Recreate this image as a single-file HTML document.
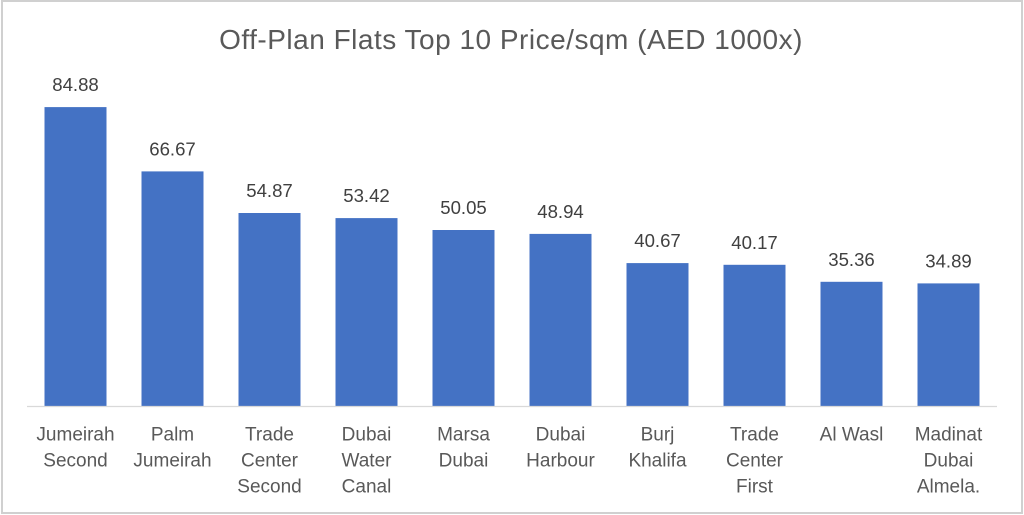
<!DOCTYPE html>
<html>
<head>
<meta charset="utf-8">
<style>
  html,body{margin:0;padding:0;background:#fff;}
  svg{display:block;}
  text{font-family:"Liberation Sans",Arial,sans-serif;}
</style>
</head>
<body>
<svg width="1024" height="515" viewBox="0 0 1024 515" xmlns="http://www.w3.org/2000/svg">
  <rect x="0" y="0" width="1024" height="515" fill="#fff"/>
  <rect x="2" y="1" width="1020" height="512" fill="#fff" stroke="#d0d0d0" stroke-width="2"/>

  <text x="511" y="49" text-anchor="middle" font-size="28" letter-spacing="0.5" fill="#595959">Off-Plan Flats Top 10 Price/sqm (AED 1000x)</text>

  <g fill="#4472C4">
    <rect x="44.5" y="107.1" width="62" height="299.4"/>
    <rect x="141.5" y="171.4" width="62" height="235.1"/>
    <rect x="238.5" y="213.0" width="62" height="193.5"/>
    <rect x="335.5" y="218.1" width="62" height="188.4"/>
    <rect x="432.5" y="230.0" width="62" height="176.5"/>
    <rect x="529.5" y="233.9" width="62" height="172.6"/>
    <rect x="626.5" y="263.1" width="62" height="143.4"/>
    <rect x="723.5" y="264.8" width="62" height="141.7"/>
    <rect x="820.5" y="281.8" width="62" height="124.7"/>
    <rect x="917.5" y="283.4" width="62" height="123.1"/>
  </g>

  <line x1="27" y1="406.5" x2="997" y2="406.5" stroke="#d9d9d9" stroke-width="1.2"/>

  <g font-size="18.6" fill="#404040" text-anchor="middle">
    <text x="75.5" y="91">84.88</text>
    <text x="172.5" y="155.4">66.67</text>
    <text x="269.5" y="197">54.87</text>
    <text x="366.5" y="202.1">53.42</text>
    <text x="463.5" y="214">50.05</text>
    <text x="560.5" y="217.9">48.94</text>
    <text x="657.5" y="247.1">40.67</text>
    <text x="754.5" y="248.8">40.17</text>
    <text x="851.5" y="265.8">35.36</text>
    <text x="948.5" y="267.4">34.89</text>
  </g>

  <g font-size="19" fill="#595959" text-anchor="middle">
    <text x="75.5" y="440.5">Jumeirah</text>
    <text x="75.5" y="466.5">Second</text>

    <text x="172.5" y="440.5">Palm</text>
    <text x="172.5" y="466.5">Jumeirah</text>

    <text x="269.5" y="440.5">Trade</text>
    <text x="269.5" y="466.5">Center</text>
    <text x="269.5" y="492.5">Second</text>

    <text x="366.5" y="440.5">Dubai</text>
    <text x="366.5" y="466.5">Water</text>
    <text x="366.5" y="492.5">Canal</text>

    <text x="463.5" y="440.5">Marsa</text>
    <text x="463.5" y="466.5">Dubai</text>

    <text x="560.5" y="440.5">Dubai</text>
    <text x="560.5" y="466.5">Harbour</text>

    <text x="657.5" y="440.5">Burj</text>
    <text x="657.5" y="466.5">Khalifa</text>

    <text x="754.5" y="440.5">Trade</text>
    <text x="754.5" y="466.5">Center</text>
    <text x="754.5" y="492.5">First</text>

    <text x="851.5" y="440.5">Al Wasl</text>

    <text x="948.5" y="440.5">Madinat</text>
    <text x="948.5" y="466.5">Dubai</text>
    <text x="948.5" y="492.5">Almela.</text>
  </g>
</svg>
</body>
</html>
